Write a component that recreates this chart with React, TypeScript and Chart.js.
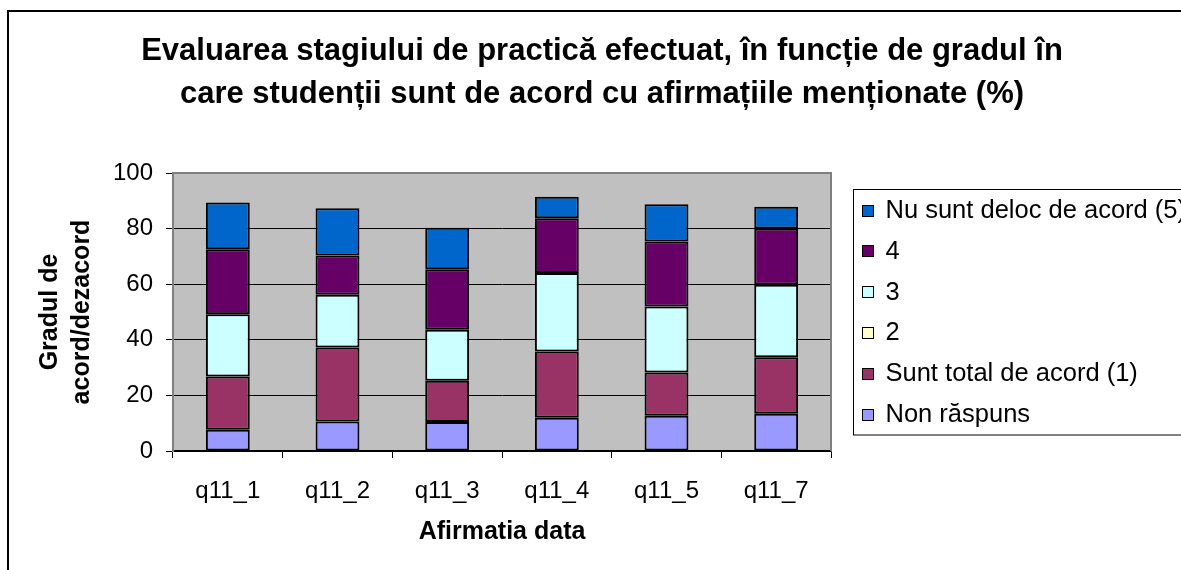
import React, { useEffect, useRef } from "react";
import { Chart, registerables } from "chart.js";

Chart.register(...registerables);

const categories = ["q11_1", "q11_2", "q11_3", "q11_4", "q11_5", "q11_7"];
const seriesLabels = [
  "Non răspuns",
  "Sunt total de acord (1)",
  "2",
  "3",
  "4",
  "Nu sunt deloc de acord (5)",
];
const nonRaspuns = [7.6, 10.6, 10.4, 12.0, 12.7, 13.4];
const totalAcord1 = [19.2, 26.6, 14.9, 23.8, 15.5, 20.3];
const grad2 = [0, 0, 0, 0, 0, 0];
const grad3 = [22.4, 19.0, 18.3, 28.2, 23.8, 26.1];
const grad4 = [23.4, 14.1, 21.8, 19.7, 23.4, 20.2];
const deloc5 = [16.8, 17.0, 14.9, 7.8, 13.4, 7.9];
const seriesColors = ["#9999FF", "#993366", "#FFFFCC", "#CCFFFF", "#660066", "#0066CC"];
const yTicks = [0, 20, 40, 60, 80, 100];

const titleLines = [
  "Evaluarea stagiului de practică efectuat, în funcție de gradul în",
  "care studenții sunt de acord cu afirmațiile menționate (%)",
];
const yTitle = ["Gradul de", "acord/dezacord"];
const xTitle = "Afirmatia data";

const FONT = "'Liberation Sans', Arial, sans-serif";

const plotBgPlugin = {
  id: "plotBg",
  beforeDraw(chart: any) {
    const { ctx, chartArea } = chart;
    ctx.save();
    ctx.fillStyle = "#C0C0C0";
    ctx.fillRect(chartArea.left, chartArea.top, chartArea.right - chartArea.left, chartArea.bottom - chartArea.top);
    ctx.restore();
  },
  afterDatasetsDraw(chart: any) {
    const { ctx, chartArea } = chart;
    ctx.save();
    ctx.strokeStyle = "#808080";
    ctx.lineWidth = 2;
    ctx.beginPath();
    ctx.moveTo(chartArea.left, chartArea.top);
    ctx.lineTo(chartArea.right, chartArea.top);
    ctx.lineTo(chartArea.right, chartArea.bottom);
    ctx.stroke();
    ctx.restore();
  },
};

const framePlugin = {
  id: "frame",
  afterDraw(chart: any) {
    const { ctx, width, height } = chart;
    ctx.save();
    ctx.fillStyle = "#000";
    ctx.fillRect(7, 10, 2, height - 10);
    ctx.fillRect(7, 10, width - 7, 2);
    ctx.restore();
  },
};

const legendPlugin = {
  id: "customLegend",
  afterDraw(chart: any) {
    const { ctx, chartArea, width } = chart;
    const left = Math.round(chartArea.right + 22) + 0.5;
    const top = Math.round(chartArea.top + 16) + 0.5;
    const step = 40.8;
    const n = chart.data.datasets.length;
    const h = step * (n - 1) + 41.5;
    ctx.save();
    ctx.strokeStyle = "#000";
    ctx.lineWidth = 1;
    ctx.strokeRect(left, top, width + 20 - left, h);
    ctx.font = `25.5px ${FONT}`;
    ctx.textBaseline = "middle";
    ctx.textAlign = "left";
    for (let i = 0; i < n; i++) {
      const ds = chart.data.datasets[n - 1 - i];
      const cy = top + 20.5 + i * step;
      ctx.fillStyle = ds.backgroundColor;
      ctx.fillRect(left + 9, Math.round(cy - 5.5), 11, 11);
      ctx.strokeStyle = "#000";
      ctx.strokeRect(left + 9, Math.round(cy - 5.5) + 0.5, 11, 11);
      ctx.fillStyle = "#000";
      ctx.fillText(ds.label, left + 32, cy + 1);
    }
    ctx.restore();
  },
};

export default function App() {
  const canvasRef = useRef<HTMLCanvasElement | null>(null);

  useEffect(() => {
    document.body.style.margin = "0";
    const canvas = canvasRef.current;
    if (!canvas) return;
    Chart.defaults.font.family = FONT;
    Chart.defaults.color = "#000";
    const values = [nonRaspuns, totalAcord1, grad2, grad3, grad4, deloc5];
    const chart = new Chart(canvas, {
      type: "bar",
      data: {
        labels: categories,
        datasets: values.map((v, i) => ({
          label: seriesLabels[i],
          data: v,
          backgroundColor: seriesColors[i],
          borderColor: "#000",
          borderWidth: 2,
          borderSkipped: false,
          barPercentage: 0.4,
          categoryPercentage: 1,
        })),
      },
      options: {
        responsive: false,
        animation: false,
        devicePixelRatio: 1,
        layout: { padding: { left: 23, right: 0, top: 0, bottom: 0 } },
        plugins: {
          legend: { display: false },
          tooltip: { enabled: false },
          title: {
            display: true,
            text: titleLines,
            color: "#000",
            font: { size: 31, weight: "bold", family: FONT, lineHeight: 43 / 31 },
            padding: { top: 30, bottom: 57 },
          },
        },
        scales: {
          x: {
            stacked: true,
            offset: true,
            grid: {
              display: true,
              offset: true,
              drawOnChartArea: false,
              drawTicks: true,
              tickLength: 7,
              tickColor: "#000",
              color: "#000",
            },
            border: { display: true, color: "#000", width: 1.5 },
            ticks: { font: { size: 24, family: FONT }, color: "#000", padding: 19, maxRotation: 0 },
            title: {
              display: true,
              text: xTitle,
              color: "#000",
              font: { size: 25, weight: "bold", family: FONT, lineHeight: 1.2 },
              padding: { top: 0, bottom: 23 },
            },
            afterFit: (s: any) => {
              s.height = 119;
            },
          },
          y: {
            stacked: true,
            min: 0,
            max: 100,
            afterBuildTicks: (s: any) => {
              s.ticks = yTicks.map((v) => ({ value: v }));
            },
            grid: {
              color: (c: any) => (c.tick && c.tick.value === 100 ? "rgba(0,0,0,0)" : "#000"),
              lineWidth: 1,
              drawTicks: true,
              tickLength: 7,
              tickColor: "#000",
            },
            border: { display: true, color: "#808080", width: 2 },
            ticks: { font: { size: 24, family: FONT }, color: "#000", padding: 13 },
            title: {
              display: true,
              text: yTitle,
              color: "#000",
              font: { size: 25, weight: "bold", family: FONT, lineHeight: 1.28 },
              padding: { top: 11, bottom: 0 },
            },
            afterFit: (s: any) => {
              s.width = 150;
            },
          },
          legendSpace: {
            type: "linear",
            position: "right",
            display: true,
            grid: { display: false, drawTicks: false },
            border: { display: false },
            ticks: { display: false },
            afterFit: (s: any) => {
              s.width = 350;
            },
          },
        },
      },
      plugins: [plotBgPlugin, legendPlugin, framePlugin],
    } as any);
    return () => chart.destroy();
  }, []);

  return (
    <div style={{ width: 1181, height: 570, position: "relative" }}>
      <canvas ref={canvasRef} width={1181} height={570} />
    </div>
  );
}
